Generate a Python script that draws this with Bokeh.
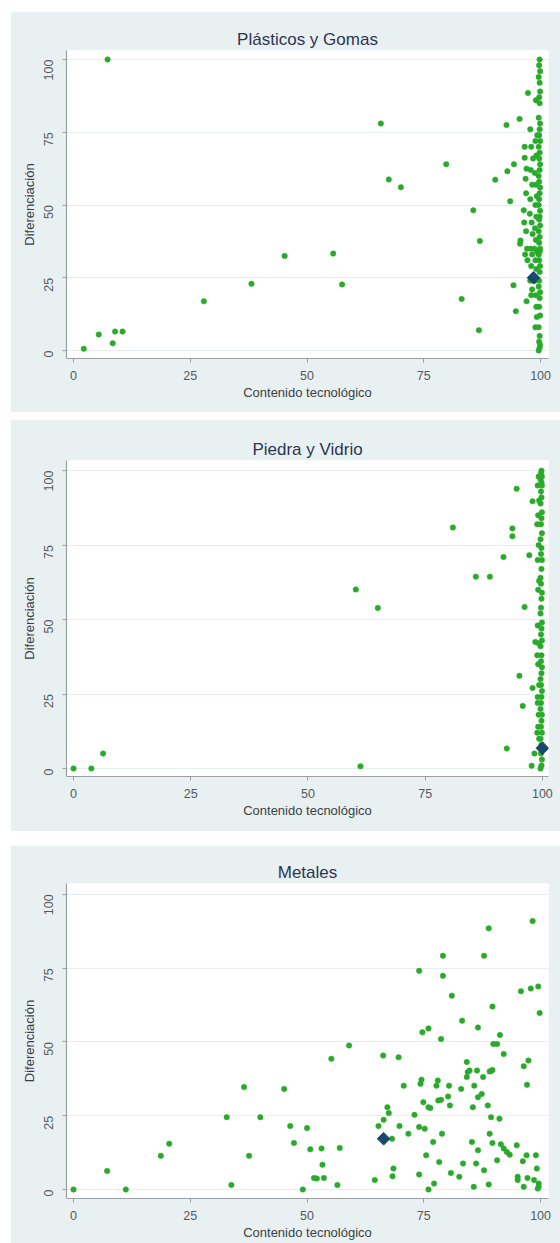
import math
from bokeh.plotting import figure
from bokeh.layouts import column, row
from bokeh.models import Spacer, FixedTicker, Range1d
from bokeh.embed import file_html
from bokeh.resources import INLINE

# ---------------- data ----------------
titles = ["Plásticos y Gomas", "Piedra y Vidrio", "Metales"]
x_label = "Contenido tecnológico"
y_label = "Diferenciación"
tick_values = [0, 25, 50, 75, 100]

col_x = [99.8, 99.7, 99.9, 99.6, 99.8, 99.9, 99.7, 99.8, 99.6, 99.9,
         99.8, 99.7, 99.9, 99.6, 99.8, 99.7, 99.9, 99.8, 99.6, 99.7,
         99.9, 99.8, 99.7, 99.6, 99.9, 99.8, 99.7, 99.9, 99.6, 99.8,
         99.7, 99.9, 99.8, 99.6, 99.7, 99.9, 99.8, 99.7, 99.6, 99.9,
         99.8, 99.7, 99.9, 99.6, 99.8, 99.7, 99.9, 99.8, 99.6]

plast_x = ([7.3, 2.2, 5.4, 8.4, 8.9, 10.5, 27.9, 38.1, 45.2, 55.6, 57.5, 65.8, 67.5, 70.1,
            79.8, 83.1, 85.6, 87.0, 86.8, 90.3, 92.7, 92.9, 93.5, 94.3, 94.2, 94.7, 95.5,
            95.6, 95.7]
           + [96.4, 96.6, 97.3, 97.0, 96.9, 96.8, 96.5, 96.9, 97.1, 96.7, 97.2, 96.6, 97.0]
           + [97.8, 98.0, 97.9, 98.2, 97.8, 98.1, 98.3, 97.9, 98.2, 98.0, 97.8, 98.0, 97.7,
              98.4, 98.2]
           + [99.0, 98.9, 99.1, 98.8, 99.0, 99.2, 98.9, 99.1, 98.8, 99.0, 99.2, 98.9, 99.1,
              98.8, 99.0, 99.1, 98.9, 99.2, 98.7, 99.3]
           + col_x)
plast_y = ([100, 0.6, 5.5, 2.5, 6.5, 6.5, 16.9, 22.9, 32.5, 33.3, 22.7, 78, 58.8, 56.1,
            64, 17.7, 48.2, 37.6, 7, 58.7, 77.5, 61.6, 51.3, 64, 22.4, 13.5, 79.6, 36.7, 37.8]
           + [48.2, 66.2, 88.5, 16.9, 54, 59, 44, 41, 35, 33, 31, 70, 62.5]
           + [76, 70, 62, 57, 52, 44, 40, 35, 33, 29, 24, 19, 47, 66, 21]
           + [86, 72, 67, 61, 57, 53, 50, 46, 42, 38, 34, 31, 28, 24, 19, 15, 8, 11.5, 35, 74]
           + [100, 98, 96, 94, 92, 89, 87, 85, 80, 78, 76, 74, 72, 70, 68, 66, 64, 62, 60, 58,
              56, 54, 52, 50, 48, 46, 45, 43, 41, 39, 37, 35, 34, 33, 31, 29, 27, 24, 22, 20,
              18, 15, 12, 8, 5, 3, 2, 1, 0])

piedra_x = ([0, 3.8, 6.3, 60.2, 61.2, 64.9, 80.9, 85.8, 88.8, 91.7, 92.4, 93.6, 93.6, 94.5,
             95.1, 95.8, 96.2, 97.2, 97.7, 97.9, 97.9, 98.3, 98.5]
            + [99.2, 99.0, 99.3, 99.1, 98.9, 99.2, 99.0, 99.3, 99.1, 99.0, 99.2, 98.9, 99.1,
               99.3, 99.0, 99.2, 99.1, 98.9, 99.3, 99.0]
            + col_x)
piedra_y = ([0, 0, 5, 60.1, 0.7, 53.9, 80.9, 64.4, 64.4, 71, 6.7, 80.6, 78, 93.9, 31.1, 21,
             54.2, 71.6, 0.9, 89.7, 27, 5, 42.5]
            + [98, 95, 90, 85, 82, 75, 70, 63, 60, 48, 42, 38, 35, 28, 22, 18, 14, 12, 10, 24]
            + [100, 99, 98, 97, 96, 95, 93, 91, 89, 86, 84, 82, 79, 77, 74, 72, 70, 67, 64, 62,
               59, 57, 54, 52, 49, 47, 45, 43, 41, 38, 36, 34, 32, 30, 28, 26, 24, 22, 20, 18,
               16, 14, 12, 10, 8, 5, 3, 1, 0])

metal_x = ([0, 7.2, 11.2, 18.7, 20.5, 32.8, 33.8, 36.5, 37.6, 40.0, 45.1, 46.4, 47.2, 49.1,
            50.0, 50.7, 51.5, 52.1, 53.1, 53.3, 53.6, 55.2, 56.5, 57.0, 59.0]
           + [64.5, 65.3, 66.3, 66.4, 67.2, 67.5, 68.2, 68.5, 68.3, 69.6, 69.8, 70.7, 71.7, 73.0,
              74.0, 74.0, 74.0, 74.3, 74.5, 74.7, 74.9, 75.2, 75.5, 76.0, 76.0, 76.0, 76.4, 77.0,
              77.2, 77.7, 78.0, 78.1, 78.3, 78.7, 78.7, 78.9, 79.1, 79.1]
           + [80.2, 80.4, 80.6, 80.8, 81.0, 82.6, 83.0, 83.2, 83.4, 84.2, 84.2, 84.4, 84.8, 85.3,
              85.5, 85.7, 85.8, 86.2, 86.4, 86.6, 86.6, 86.6, 87.4, 87.7, 87.9, 87.9, 88.7, 88.9,
              88.9, 89.1, 89.4, 89.7, 89.1, 89.4, 89.7, 89.7, 89.9, 90.7, 90.7, 91.2, 91.3, 91.5,
              92.1, 92.1, 92.8, 93.4]
           + [94.9, 95.1, 95.1, 95.8, 96.2, 96.4, 96.4, 97.0, 97.1, 97.4, 97.2, 97.9, 98.3, 98.6,
              99.0, 99.2, 99.5, 99.6, 99.6, 99.8, 99.4])
metal_y = ([0, 6.3, 0, 11.4, 15.5, 24.5, 1.5, 34.7, 11.4, 24.5, 34.1, 21.5, 15.8, 0, 20.8,
            13.6, 3.9, 3.7, 13.9, 8.4, 3.9, 44.3, 1.5, 14.1, 48.8]
           + [3.2, 21.5, 45.4, 23.6, 27.9, 25.9, 17.2, 7.1, 4.5, 44.8, 21.5, 35.2, 18.9, 25.3,
              74.1, 5.1, 21.2, 35.8, 37.2, 53.3, 29.6, 20.6, 11.6, 54.6, 27.9, 0, 27.6, 16.1,
              2.0, 35.2, 36.9, 30.2, 9.3, 51.0, 30.4, 18.9, 79.2, 72.4]
           + [31.5, 35.2, 28.5, 5.6, 65.7, 4.3, 34.1, 57.2, 8.8, 43.2, 38.1, 39.8, 40.3, 16.1,
              27.9, 0.9, 35.2, 8.8, 40.3, 54.9, 13.3, 31.3, 32.4, 38.1, 79.2, 6.5, 28.5, 1.7,
              88.5, 18.9, 24.5, 15.8, 40.0, 40.2, 40.5, 62.0, 49.3, 49.3, 9.9, 24.0, 52.4, 15.3,
              45.9, 13.9, 12.7, 11.8]
           + [15.0, 4.3, 3.2, 67.2, 9.6, 41.8, 0.9, 11.6, 35.5, 43.7, 3.9, 68.1, 91.0, 3.2,
              11.6, 7.1, 68.8, 2.0, 0.9, 59.8, 0.3])

# sector averages (diamond markers)
avg_x = [98.5, 100, 66.4]
avg_y = [25, 6.8, 17.2]

# ---------------- style ----------------
BG = "#E9F0F2"
GREEN = "#2AAA2A"
NAVY = "#1A476F"
FONT = "Liberation Sans"
AXIS = "#9A9FA3"
TEXT = "#555A60"


def make_panel(title, xs, ys, mx, my, height, top, bottom, xr, yr):
    p = figure(width=550, height=height, output_backend="svg", toolbar_location=None,
               x_range=Range1d(*xr), y_range=Range1d(*yr),
               min_border_left=56, min_border_right=12,
               min_border_top=top, min_border_bottom=bottom)
    p.background_fill_color = "white"
    p.border_fill_color = BG
    p.outline_line_color = None
    p.title.text = title
    p.title.align = "center"
    p.title.text_font = FONT
    p.title.text_font_style = "normal"
    p.title.text_font_size = "17px"
    p.title.text_color = "#2B3650"
    p.title.standoff = 4

    for ax in (p.xaxis[0], p.yaxis[0]):
        ax.ticker = FixedTicker(ticks=tick_values)
        ax.axis_line_color = AXIS
        ax.axis_line_width = 1.2
        ax.major_tick_line_color = AXIS
        ax.major_tick_in = 0
        ax.major_tick_out = 4
        ax.minor_tick_line_color = None
        ax.major_label_text_font = FONT
        ax.major_label_text_font_size = "12.5px"
        ax.major_label_text_color = TEXT
        ax.axis_label_text_font = FONT
        ax.axis_label_text_font_size = "13px"
        ax.axis_label_text_font_style = "normal"
        ax.axis_label_text_color = "#3A3F45"
    p.xaxis.axis_label = x_label
    p.yaxis.axis_label = y_label
    p.xaxis.major_label_standoff = 8
    p.xaxis.axis_label_standoff = 2
    p.yaxis.major_label_orientation = math.pi / 2
    p.yaxis.major_label_standoff = 14
    p.yaxis.axis_label_standoff = 0

    p.xgrid.grid_line_color = None
    p.ygrid.ticker = FixedTicker(ticks=tick_values)
    p.ygrid.grid_line_color = "#E6EDF0"
    p.ygrid.grid_line_width = 1

    p.scatter(xs, ys, marker="circle", size=5.5, fill_color=GREEN, line_color=GREEN,
              line_width=0.5)
    p.scatter([mx], [my], marker="square", angle=math.pi / 4, size=9,
              fill_color=NAVY, line_color=NAVY)
    return p


p1 = make_panel(titles[0], plast_x, plast_y, avg_x[0], avg_y[0], 401, 39, 54,
                (-1.5, 101.7), (-2.75, 103.1))
p2 = make_panel(titles[1], piedra_x, piedra_y, avg_x[1], avg_y[1], 412, 41, 55,
                (-1.5, 101.3), (-2.7, 103.4))
p3 = make_panel(titles[2], metal_x, metal_y, avg_x[2], avg_y[2], 398, 38, 45,
                (-1.5, 101.7), (-3.05, 103.7))

layout = column(
    Spacer(width=1, height=11),
    row(Spacer(width=10, height=1), p1),
    Spacer(width=1, height=7),
    row(Spacer(width=10, height=1), p2),
    Spacer(width=1, height=14),
    row(Spacer(width=10, height=1), p3),
)

open("out.html", "w").write(file_html(layout, INLINE))
